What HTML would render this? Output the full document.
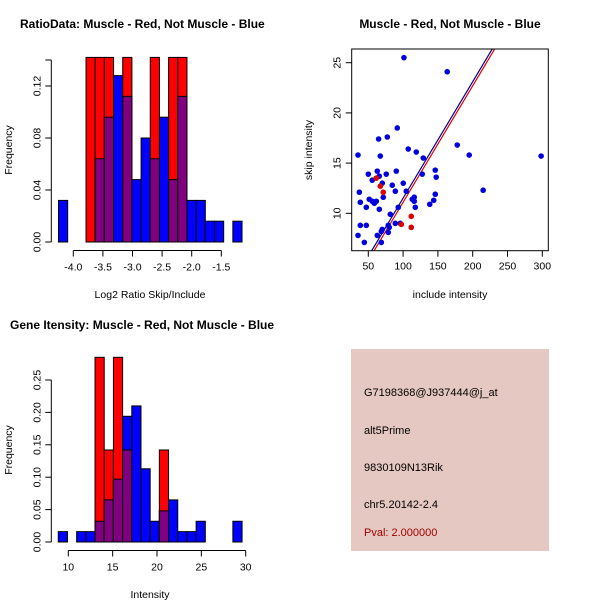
<!DOCTYPE html>
<html><head><meta charset="utf-8"><style>
body{margin:0;background:#fff}
svg{display:block;font-family:"Liberation Sans",sans-serif}
</style></head><body>
<svg id="c" width="600" height="600" viewBox="0 0 600 600">
<text x="20" y="28" font-size="12" font-weight="bold">RatioData: Muscle - Red, Not Muscle - Blue</text>
<text x="450" y="28" font-size="12" font-weight="bold" text-anchor="middle">Muscle - Red, Not Muscle - Blue</text>
<text x="10" y="329" font-size="12" font-weight="bold">Gene Itensity: Muscle - Red, Not Muscle - Blue</text>
<rect x="351" y="349" width="198" height="202" fill="#e6c8c2"/>
<g font-size="11">
<text x="364" y="396">G7198368@J937444@j_at</text>
<text x="364" y="434">alt5Prime</text>
<text x="364" y="471">9830109N13Rik</text>
<text x="364" y="508">chr5.20142-2.4</text>
<text x="364" y="536" fill="#a00000">Pval: 2.000000</text>
</g>
</svg>
<script>
// Ratio histogram data (20 bins)
const ratioBlue=[0.032,0,0,0,0.064,0.096,0.128,0.112,0.048,0.08,0.064,0.096,0.048,0.112,0.032,0.032,0.016,0.016,0,0.016];
const ratioRed=[0,0,0,0.142,0.142,0.142,0,0.142,0,0,0.142,0,0.142,0.142,0,0,0,0,0,0];
const ratioBinStart=-4.25, ratioBinWidth=0.155;
const ratioXTicks=[-4.0,-3.5,-3.0,-2.5,-2.0,-1.5];
const ratioXLabels=["-4.0","-3.5","-3.0","-2.5","-2.0","-1.5"];
const ratioYTicks=[0,0.04,0.08,0.12];
const ratioYLabels=["0.00","0.04","0.08","0.12"];
// Intensity histogram data (20 bins)
const intBlue=[0.016,0,0.016,0.016,0.032,0.065,0.097,0.194,0.21,0.113,0.032,0.048,0.065,0.016,0.016,0.032,0,0,0,0.032];
const intRed=[0,0,0,0,0.285,0.142,0.285,0.142,0,0,0,0.142,0,0,0,0,0,0,0,0];
const intBinStart=8.87, intBinWidth=1.036;
const intXTicks=[10,15,20,25,30];
const intYTicks=[0,0.05,0.10,0.15,0.20,0.25];
const intYLabels=["0.00","0.05","0.10","0.15","0.20","0.25"];
// Scatter data
const blueX=[101.2,163.4,91.6,64.8,77.3,177.8,107.4,118.9,35.2,195,298.3,67.2,129,146.2,62.9,90.2,50,75.8,127.5,147.6,65.8,55.7,70.1,100.2,84.4,88.8,104.5,215,37.1,146.2,71.5,116,113.2,51.4,55.7,61.5,38.5,116,144,138.3,58.6,47.1,117.5,93.1,65.8,81.6,38.5,47.1,78.7,88.8,95.9,80.1,70.1,68.7,78.7,62.9,35.2,44.3,68.7];
const blueY=[25.5,24.1,18.5,17.4,17.6,16.8,16.4,16.1,15.8,15.8,15.7,15.7,15.5,14.3,14.2,14.2,13.9,13.9,13.9,13.6,13.7,13.3,13.0,13.0,12.8,12.2,12.2,12.3,12.1,11.9,11.6,11.6,11.4,11.4,11.2,11.2,11.1,11.2,11.3,10.9,11.0,10.6,10.6,10.6,10.4,9.9,8.8,8.8,8.8,9.0,9.0,8.6,8.4,8.2,8.1,7.8,7.8,7.1,7.1];
const redX=[61.5,67.2,71.5,111.7,111.7,97.4];
const redY=[13.5,12.7,12.1,9.7,8.6,8.9];
const blueFit=[-0.09,0.116];
const redFit=[-0.5,0.116];
const scXTicks=[50,100,150,200,250,300];
const scYTicks=[10,15,20,25];

const svg=document.getElementById('c');
const NS='http://www.w3.org/2000/svg';
function mk(tag,attrs,parent){const e=document.createElementNS(NS,tag);for(const k in attrs)e.setAttribute(k,attrs[k]);(parent||svg).appendChild(e);return e;}

function hist(o){
  const g=mk('g',{});
  
  
  const sx=v=>o.x0+(v-o.v0)*o.kx, sy=v=>o.y0-v*o.ky;
  for(let i=0;i<o.blue.length;i++){
    const a=o.binStart+i*o.binW, x1=sx(a), x2=sx(a+o.binW);
    const b=o.blue[i], r=o.red[i];
    if(b>0){const e=mk('rect',{x:x1,y:sy(b),width:x2-x1,height:sy(0)-sy(b),fill:'#0000ff',stroke:'#000','stroke-width':1},g);
      
      }
    if(r>0){const e=mk('rect',{x:x1,y:sy(r),width:x2-x1,height:sy(0)-sy(r),fill:'#ff0000',stroke:'#000','stroke-width':1},g);
      
      }
    const m=Math.min(b,r);
    if(m>0){const e=mk('rect',{x:x1,y:sy(m),width:x2-x1,height:sy(0)-sy(m),fill:'#800080',stroke:'#000','stroke-width':1},g);
      
      }
  }
  const ax=o.xTicks, yA=o.xAxisY;
  mk('line',{x1:sx(ax[0]),x2:sx(ax[ax.length-1]),y1:yA,y2:yA,stroke:'#000'},g);
  ax.forEach((t,i)=>{mk('line',{x1:sx(t),x2:sx(t),y1:yA,y2:yA+6,stroke:'#000'},g);
    const tx=mk('text',{x:sx(t),y:yA+20,'font-size':10.5,'text-anchor':'middle'},g);tx.textContent=o.xLabels[i];});
  const yAx=o.yAxisX;
  mk('line',{x1:yAx,x2:yAx,y1:sy(0),y2:sy(o.yTop),stroke:'#000'},g);
  o.yTicks.concat([o.yTop]).forEach(t=>mk('line',{x1:yAx-6,x2:yAx,y1:sy(t),y2:sy(t),stroke:'#000'},g));
  o.yTicks.forEach((t,i)=>{const tx=mk('text',{x:yAx-11,y:sy(t),'font-size':10.5,'text-anchor':'middle',transform:`rotate(-90 ${yAx-11} ${sy(t)})`},g);tx.textContent=o.yLabels[i];});
  const yl=mk('text',{x:o.ylabX,y:o.ylabY,'font-size':10.5,'text-anchor':'middle',transform:`rotate(-90 ${o.ylabX} ${o.ylabY})`},g);yl.textContent='Frequency';
  const xl=mk('text',{x:o.xlabX,y:o.xlabY,'font-size':10.5,'text-anchor':'middle'},g);xl.textContent=o.xlab;
}

hist({name:'ratio-histogram',blue:ratioBlue,red:ratioRed,binStart:ratioBinStart,binW:ratioBinWidth,
  x0:73.3,v0:-4.0,kx:59.2,y0:242,ky:1300,xTicks:ratioXTicks,xLabels:ratioXLabels,xAxisY:250.5,
  yTicks:ratioYTicks,yLabels:ratioYLabels,yTop:0.14,yAxisX:51.3,ylabX:12,ylabY:150,xlabX:150,xlabY:298,xlab:'Log2 Ratio Skip/Include'});
hist({name:'intensity-histogram',blue:intBlue,red:intRed,binStart:intBinStart,binW:intBinWidth,
  x0:68.3,v0:10,kx:8.87,y0:542,ky:648,xTicks:intXTicks,xLabels:intXTicks.map(String),xAxisY:550.5,
  yTicks:intYTicks,yLabels:intYLabels,yTop:0.25,yAxisX:51.3,ylabX:12,ylabY:450,xlabX:150,xlabY:598,xlab:'Intensity'});

(function(){
  const g=mk('g',{});
  
  
  const L=351.7,R=548.3,T=49,B=250.7;
  const sx=v=>368.3+(v-50)*0.696, sy=v=>213.3-(v-10)*10.04;
  const cp=mk('clipPath',{id:'cl'},g);mk('rect',{x:L,y:T,width:R-L,height:B-T},cp);
  const fl=(f,col,nm)=>{const e=mk('line',{x1:sx(20),y1:sy(f[0]+f[1]*20),x2:sx(320),y2:sy(f[0]+f[1]*320),stroke:col,'stroke-width':1.2,'clip-path':'url(#cl)'},g);
    
    };
  fl(redFit,'#dd0000','red-fit-line');
  fl(blueFit,'#00008b','blue-fit-line');
  blueX.forEach((v,i)=>{const e=mk('circle',{cx:sx(v),cy:sy(blueY[i]),r:2.8,fill:'#0000dd'},g);
    
    });
  redX.forEach((v,i)=>{const e=mk('circle',{cx:sx(v),cy:sy(redY[i]),r:2.8,fill:'#dd0000'},g);
    
    });
  mk('rect',{x:L,y:T,width:R-L,height:B-T,fill:'none',stroke:'#000'},g);
  scXTicks.forEach(t=>{mk('line',{x1:sx(t),x2:sx(t),y1:B,y2:B+6,stroke:'#000'},g);
    const tx=mk('text',{x:sx(t),y:B+19,'font-size':10.5,'text-anchor':'middle'},g);tx.textContent=String(t);});
  scYTicks.forEach(t=>{mk('line',{x1:L-6,x2:L,y1:sy(t),y2:sy(t),stroke:'#000'},g);
    const tx=mk('text',{x:L-11,y:sy(t),'font-size':10.5,'text-anchor':'middle',transform:`rotate(-90 ${L-11} ${sy(t)})`},g);tx.textContent=String(t);});
  const xl=mk('text',{x:450,y:298,'font-size':10.5,'text-anchor':'middle'},g);xl.textContent='include intensity';
  const yl=mk('text',{x:312,y:150,'font-size':10.5,'text-anchor':'middle',transform:'rotate(-90 312 150)'},g);yl.textContent='skip intensity';
})();
</script>
</body></html>
